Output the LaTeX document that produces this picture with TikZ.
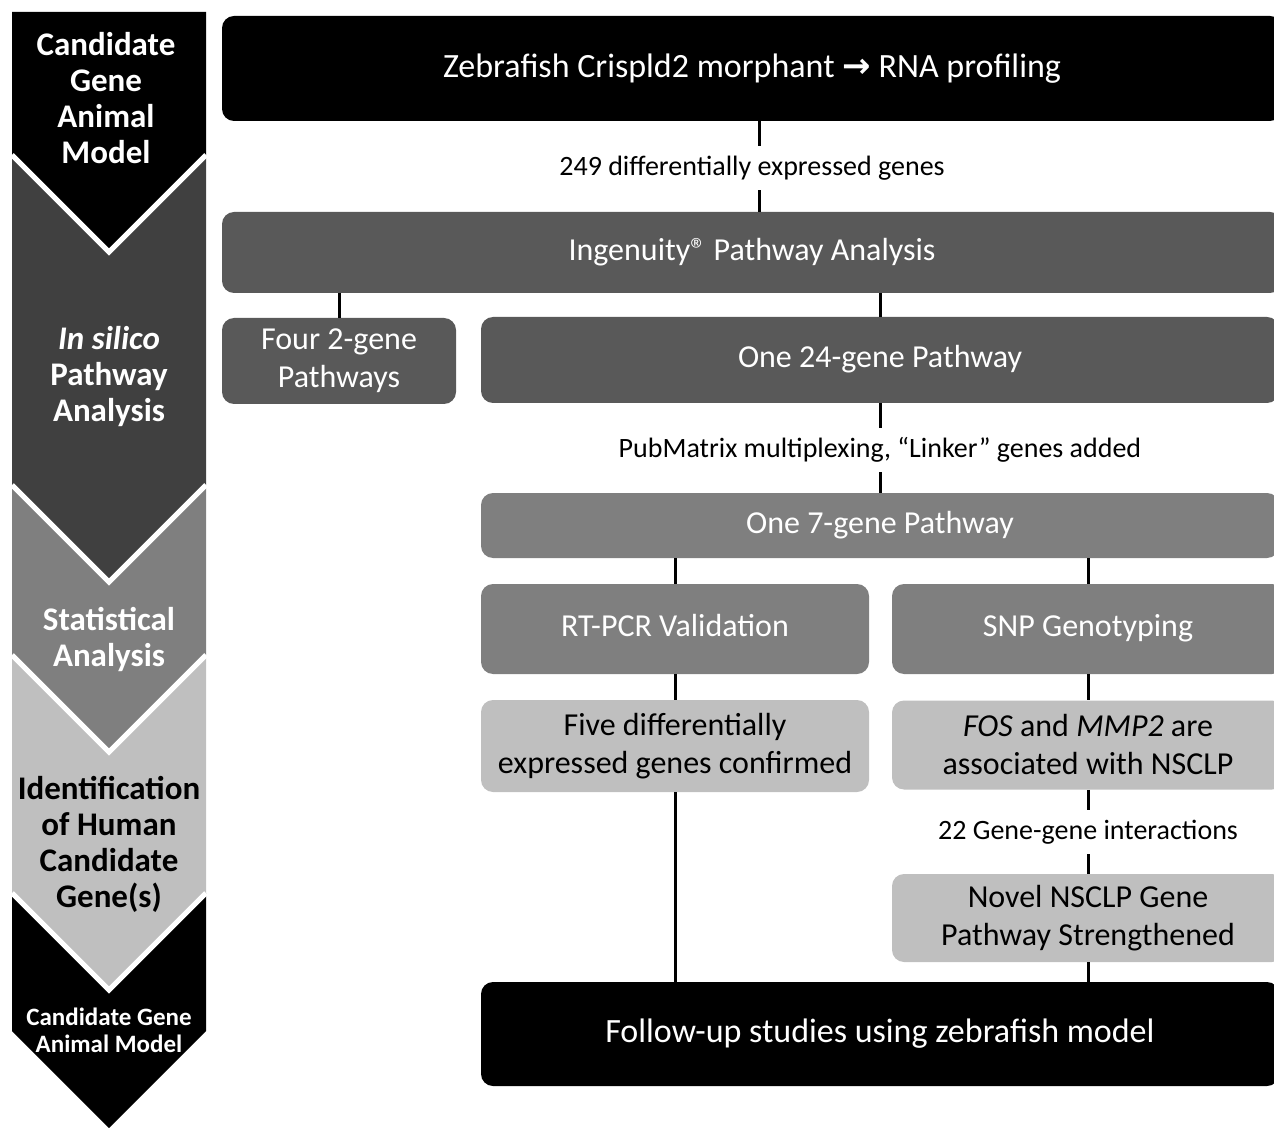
\documentclass[tikz,border=0pt]{standalone}
\usepackage{fontspec}
\setmainfont{Carlito}
\newfontfamily\arrowfont{DejaVu Sans}
\usetikzlibrary{positioning}

\definecolor{stagedark}{HTML}{404040}
\definecolor{stagemid}{HTML}{7F7F7F}
\definecolor{stagelight}{HTML}{BFBFBF}
\definecolor{boxdark}{HTML}{595959}

\begin{document}
\begin{tikzpicture}[x=0.5pt,y=-0.5pt,
	stagesep/.style={draw=white,line width=2.5pt,line join=miter},
	stagetext/.style={align=center,font=\fontsize{16.5}{18}\selectfont\bfseries},
	box/.style={rounded corners=6pt,inner sep=0pt,align=center,font=\fontsize{16}{19}\selectfont},
	bigbox/.style={box,fill=black,text=white,font=\fontsize{17}{19}\selectfont},
	lbl/.style={fill=white,inner sep=0pt,minimum height=22pt,font=\fontsize{14}{16}\selectfont},
	link/.style={line width=1.5pt}]
	\useasboundingbox (0,0) rectangle (1274,1128);
	\clip (0,0) rectangle (1274,1128);

	% left column of stages
	\fill[black] (12,12) -- (206,12) -- (206,155) -- (109,252) -- (12,155) -- cycle;
	\fill[stagedark] (12,155) -- (109,252) -- (206,155) -- (206,485) -- (109,582) -- (12,485) -- cycle;
	\fill[stagemid] (12,485) -- (109,582) -- (206,485) -- (206,655) -- (109,752) -- (12,655) -- cycle;
	\fill[stagelight] (12,655) -- (109,752) -- (206,655) -- (206,893) -- (109,990) -- (12,893) -- cycle;
	\fill[black] (12,893) -- (109,990) -- (206,893) -- (206,1031) -- (109,1128) -- (12,1031) -- cycle;
	\foreach \y in {155,485,655,893}
		\draw[stagesep] (12,\y) -- (109,\y+97) -- (206,\y);

	\node[stagetext,text=white] (s_model) at (106,98) {Candidate\\Gene\\Animal\\Model};
	\node[stagetext,text=white] (s_silico) at (109,377) {\itshape In silico\\Pathway\\Analysis};
	\node[stagetext,text=white] (s_stat) at (109,639) {Statistical\\Analysis};
	\node[stagetext,text=black] (s_human) at (109,844) {Identification\\of Human\\Candidate\\Gene(s)};
	\node[stagetext,text=white,font=\fontsize{12.5}{13.5}\selectfont\bfseries] (s_follow) at (109,1030) {Candidate Gene\\Animal Model};

	% boxes
	\node[bigbox,minimum width=530pt,minimum height=52.5pt] (morph) at (752,68.5) {Zebrafish Crispld2 morphant {\arrowfont\bfseries →} RNA profiling};
	\node[box,fill=boxdark,text=white,minimum width=530pt,minimum height=40.5pt] (ipa) at (752,252.5) {Ingenuity® Pathway Analysis\strut};
	\node[box,fill=boxdark,text=white,minimum width=117pt,minimum height=43pt] (p_four) at (339,361) {Four 2-gene\\Pathways};
	\node[box,fill=boxdark,text=white,minimum width=399pt,minimum height=43pt] (p_24) at (880,360) {One 24-gene Pathway\strut};
	\node[box,fill=stagemid,text=white,minimum width=399pt,minimum height=32.5pt] (p_7) at (880,525.5) {One 7-gene Pathway\strut};
	\node[box,fill=stagemid,text=white,minimum width=194pt,minimum height=45pt] (rtpcr) at (675,629) {RT-PCR Validation\strut};
	\node[box,fill=stagemid,text=white,minimum width=196pt,minimum height=45pt] (snp) at (1088,629) {SNP Genotyping\strut};
	\node[box,fill=stagelight,minimum width=194pt,minimum height=46pt] (five) at (675,746) {Five differentially\\expressed genes confirmed};
	\node[box,fill=stagelight,minimum width=196pt,minimum height=44.5pt] (fos) at (1088,745) {\textit{FOS} and \textit{MMP2} are\\associated with NSCLP};
	\node[box,fill=stagelight,minimum width=196pt,minimum height=44pt] (novel) at (1088,918) {Novel NSCLP Gene\\Pathway Strengthened};
	\node[bigbox,minimum width=399pt,minimum height=52pt] (follow) at (880,1034) {Follow-up studies using zebrafish model};

	% labels on connectors
	\node[lbl] (l_deg) at (752,168) {249 differentially expressed genes};
	\node[lbl] (l_pub) at (880,450) {PubMatrix multiplexing, “Linker” genes added};
	\node[lbl] (l_gxg) at (1088,832) {22 Gene-gene interactions};

	% connectors
	\draw[link] ([xshift=3.5pt]morph.south) -- ([xshift=3.5pt]l_deg.north);
	\draw[link] ([xshift=3.5pt]l_deg.south) -- ([xshift=3.5pt]ipa.north);
	\draw[link] (ipa.south -| p_four) -- (p_four.north);
	\draw[link] (ipa.south -| p_24) -- (p_24.north);
	\draw[link] (p_24.south) -- (l_pub.north);
	\draw[link] (l_pub.south) -- (p_7.north);
	\draw[link] (p_7.south -| rtpcr) -- (rtpcr.north);
	\draw[link] (p_7.south -| snp) -- (snp.north);
	\draw[link] (rtpcr.south) -- (five.north);
	\draw[link] (snp.south) -- (fos.north);
	\draw[link] (fos.south) -- (l_gxg.north);
	\draw[link] (l_gxg.south) -- (novel.north);
	\draw[link] (five.south) -- (follow.north -| five);
	\draw[link] (novel.south) -- (follow.north -| novel);
\end{tikzpicture}
\end{document}
